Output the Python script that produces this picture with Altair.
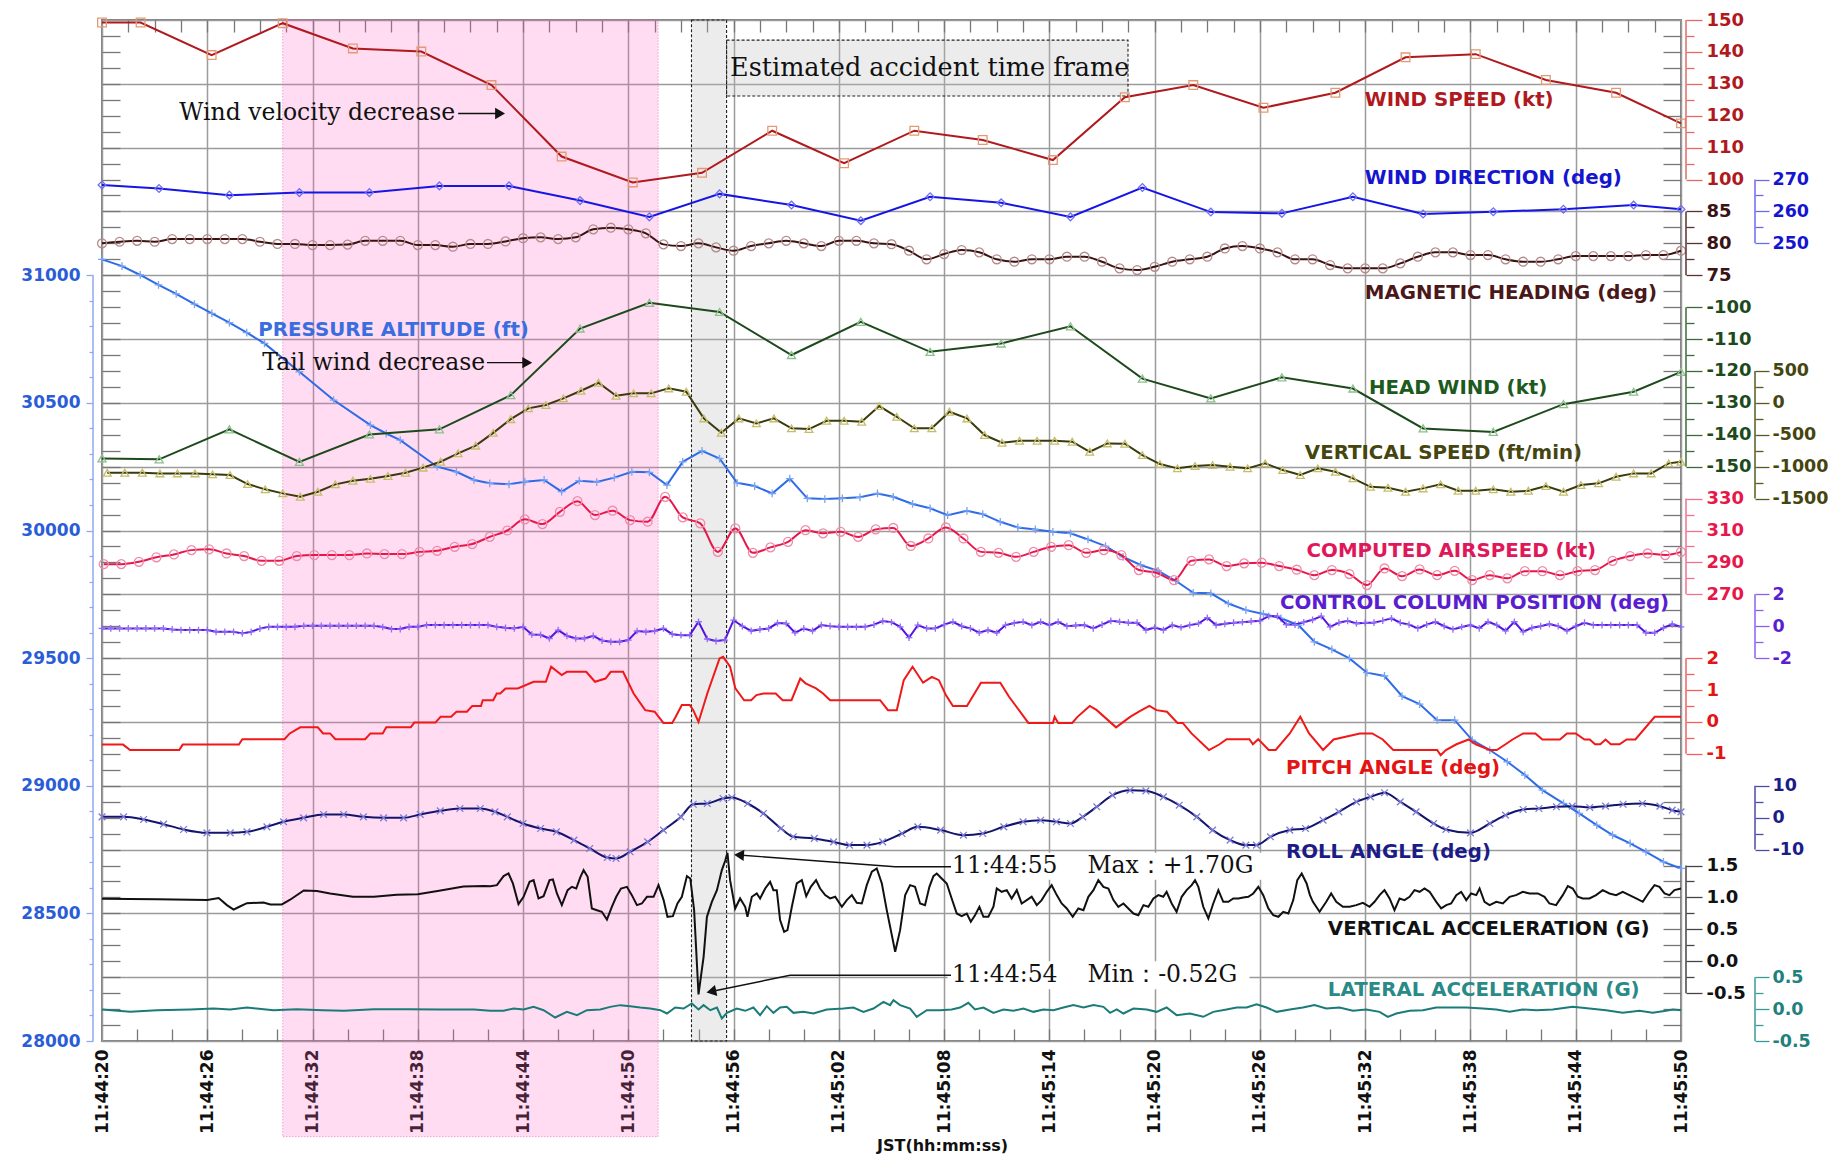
import altair as alt
import pandas as pd

# ---------------- layout (pixels, half-grid units) ----------------
W, H = 1579, 1021
N_HU = 32                      # plot height = 32 half-grid units
FONT = "DejaVu Sans"
SERIF = "DejaVu Serif"

# ---------------- time axis (seconds after 11:44:20) ----------------
T_START, T_END = 0, 90
TIME_TICKS = [0, 6, 12, 18, 24, 30, 36, 42, 48, 54, 60, 66, 72, 78, 84, 90]
TIME_LABELS = ["11:44:20", "11:44:26", "11:44:32", "11:44:38", "11:44:44", "11:44:50",
               "11:44:56", "11:45:02", "11:45:08", "11:45:14", "11:45:20", "11:45:26",
               "11:45:32", "11:45:38", "11:45:44", "11:45:50"]

# ---------------- data ----------------
WS_T = [0, 2.2, 6.25, 10.3, 14.3, 18.2, 22.2, 26.2, 30.25, 34.2, 38.2, 42.3, 46.3, 50.2,
        54.2, 58.3, 62.2, 66.2, 70.3, 74.3, 78.3, 82.3, 86.3, 90]
WS_V = [149.2, 149.2, 139.0, 149.0, 141.1, 140.1, 129.6, 107.2, 99.1, 102.1, 115.3, 105.1,
        115.3, 112.4, 106.1, 125.8, 129.6, 122.5, 127.2, 138.3, 139.3, 131.2, 127.2, 117.6]

WD_T = [0, 3.25, 7.26, 11.25, 15.24, 19.23, 23.2, 27.25, 31.2, 35.2, 39.3, 43.25, 47.2,
        51.25, 55.2, 59.3, 63.2, 67.25, 71.3, 75.3, 79.3, 83.3, 87.3, 90]
WD_V = [268.3, 267.2, 265.1, 265.9, 265.9, 268.0, 268.0, 263.4, 258.3, 265.5, 262.0, 257.1,
        264.6, 262.7, 258.3, 267.5, 259.8, 259.4, 264.6, 259.2, 259.9, 260.7, 262.0, 260.7]

MH_T = list(range(0, 91))
MH_V = [80.0, 80.25, 80.4, 80.25, 80.67, 80.67, 80.67, 80.67, 80.67, 80.25,
        79.9, 79.9, 79.73, 79.73, 79.8, 80.4, 80.4, 80.4, 79.73, 79.73,
        79.47, 79.9, 79.9, 80.3, 80.8, 80.94, 80.67, 80.94, 82.2, 82.45,
        82.2, 81.57, 79.84, 79.58, 80.0, 79.37, 78.84, 79.58, 80.0, 80.4,
        80.0, 79.58, 80.4, 80.4, 80.0, 79.86, 78.84, 77.5, 78.32, 78.95,
        78.59, 77.5, 77.12, 77.5, 77.5, 77.9, 77.9, 77.12, 76.08, 75.82,
        76.33, 77.12, 77.5, 77.9, 79.2, 79.58, 79.2, 78.59, 77.5, 77.5,
        76.6, 76.08, 76.08, 76.08, 76.86, 77.9, 78.59, 78.59, 78.17, 78.17,
        77.5, 77.12, 77.12, 77.5, 78.0, 78.0, 78.0, 78.0, 78.17, 78.17, 78.84]

HW_T = [0, 3.26, 7.26, 11.25, 15.24, 19.23, 23.3, 27.25, 31.2, 35.2, 39.3, 43.25, 47.2,
        51.25, 55.2, 59.3, 63.2, 67.25, 71.3, 75.3, 79.3, 83.3, 87.3, 90]
HW_V = [-147.4, -147.7, -138.3, -148.5, -139.9, -138.3, -127.6, -106.7, -98.65, -101.5,
        -115.0, -104.6, -114.0, -111.4, -106.0, -122.4, -128.6, -122.0, -125.5, -138.0,
        -139.1, -130.4, -126.5, -120.3]

VS_T = [round(0.3 + k, 1) for k in range(90)] + [90]
VS_V = [-1095, -1095, -1095, -1105, -1105, -1105, -1120, -1131, -1272, -1355,
        -1418, -1471, -1393, -1277, -1220, -1190, -1145, -1095, -1015, -923,
        -790, -670, -470, -255, -86, -34, 71, 190, 315, 111,
        149, 149, 227, 174, -243, -468, -243, -321, -243, -399,
        -410, -280, -280, -296, -50, -218, -399, -399, -139, -243,
        -504, -625, -594, -594, -594, -609, -766, -635, -640, -818,
        -959, -1026, -990, -975, -1001, -1026, -948, -1053, -1131, -1026,
        -1080, -1183, -1315, -1330, -1393, -1340, -1277, -1377, -1377, -1355,
        -1393, -1377, -1304, -1393, -1288, -1261, -1158, -1105, -1105, -948,
        -923]

CAS_T = [round(0.1 + k, 1) for k in range(90)] + [90]
CAS_V = [288.9, 288.9, 290.4, 293.2, 295.0, 297.7, 298.2, 295.6, 294.0, 291.0,
         291.0, 294.0, 294.6, 294.6, 294.6, 295.6, 295.2, 295.2, 296.6, 297.3,
         299.8, 301.5, 306.0, 310.0, 317.0, 314.0, 321.7, 328.4, 319.7, 322.4,
         316.5, 315.5, 331.1, 318.2, 314.5, 296.6, 311.3, 296.0, 299.4, 302.9,
         310.2, 308.2, 309.2, 306.0, 310.7, 311.6, 300.3, 305.0, 311.9, 305.0,
         296.6, 296.0, 293.5, 296.6, 299.8, 300.8, 296.0, 297.7, 294.6, 285.2,
         283.5, 278.9, 291.0, 291.9, 287.7, 289.4, 289.8, 287.7, 285.4, 282.0,
         285.2, 282.7, 275.8, 286.2, 281.4, 285.6, 282.0, 284.7, 278.9, 282.0,
         280.0, 284.5, 284.5, 282.0, 284.5, 285.2, 291.0, 294.0, 295.6, 294.6,
         296.6]

CC_T = [k * 0.5 for k in range(181)]
CC_V = [-0.14, -0.14, -0.14, -0.14, -0.14, -0.14, -0.14, -0.14, -0.2, -0.24,
        -0.24, -0.24, -0.24, -0.35, -0.35, -0.35, -0.45, -0.35, -0.15, -0.04,
        -0.04, -0.04, -0.04, 0.03, 0.03, 0.03, 0.03, 0.03, 0.03, 0.03,
        0.03, 0.03, -0.05, -0.18, -0.18, -0.04, -0.04, 0.07, 0.07, 0.07,
        0.07, 0.07, 0.07, 0.07, 0.07, -0.04, -0.1, -0.14, -0.04, -0.52,
        -0.54, -0.77, -0.24, -0.6, -0.77, -0.77, -0.6, -0.9, -0.98, -0.98,
        -0.87, -0.3, -0.35, -0.3, -0.14, -0.5, -0.56, -0.56, 0.28, -0.8,
        -0.93, -0.87, 0.38, 0.0, -0.29, -0.2, -0.14, 0.2, 0.17, -0.41,
        -0.14, -0.29, 0.07, 0.0, -0.04, -0.04, -0.04, -0.04, 0.1, 0.32,
        0.25, -0.04, -0.72, 0.07, -0.14, -0.14, 0.1, 0.28, 0.0, -0.14,
        -0.41, -0.24, -0.41, 0.07, 0.2, 0.28, 0.07, 0.28, 0.07, 0.28,
        0.0, 0.05, 0.07, -0.14, 0.1, 0.34, 0.28, 0.22, 0.22, -0.24,
        -0.08, -0.24, 0.07, -0.08, 0.07, 0.17, 0.53, 0.07, 0.15, 0.22,
        0.25, 0.3, 0.34, 0.63, 0.63, 0.1, 0.1, 0.25, 0.4, 0.63,
        -0.04, 0.22, 0.34, 0.17, 0.22, 0.22, 0.35, 0.49, 0.22, 0.1,
        -0.14, 0.1, 0.28, 0.0, -0.2, -0.05, 0.07, -0.14, 0.28, 0.07,
        -0.29, 0.28, -0.35, -0.1, 0.0, 0.13, 0.0, -0.29, 0.0, 0.22,
        0.07, 0.07, 0.07, 0.07, 0.07, 0.07, -0.41, -0.41, -0.1, 0.13,
        -0.04]

PITCH = [(0, -0.71), (1.2, -0.71), (1.6, -0.88), (4.4, -0.88), (4.6, -0.71), (7.8, -0.71),
         (8.0, -0.54), (10.4, -0.54), (10.7, -0.36), (11.3, -0.17), (12.3, -0.17), (12.6, -0.36),
         (13.0, -0.36), (13.3, -0.54), (15.0, -0.54), (15.3, -0.36), (16.0, -0.36), (16.2, -0.17),
         (17.6, -0.17), (17.8, -0.02), (19.0, -0.02), (19.3, 0.16), (19.9, 0.16), (20.2, 0.32),
         (20.8, 0.32), (21.1, 0.5), (21.6, 0.5), (21.7, 0.68), (22.3, 0.68), (22.5, 0.89),
         (22.7, 0.89), (23.0, 1.05), (23.7, 1.05), (24.6, 1.26), (25.3, 1.26), (25.6, 1.73),
         (26.2, 1.47), (26.5, 1.57), (27.6, 1.57), (28.1, 1.26), (28.7, 1.36), (29.0, 1.57),
         (29.7, 1.57), (30.3, 0.89), (30.96, 0.37), (31.5, 0.32), (32.0, -0.03), (32.5, -0.03),
         (32.7, 0.16), (33.05, 0.53), (33.5, 0.53), (33.7, 0.37), (34.0, 0.0), (34.5, 0.89),
         (35.2, 1.99), (35.4, 2.04), (35.8, 1.73), (36.1, 1.05), (36.6, 0.68), (37.0, 0.68),
         (37.3, 0.84), (37.7, 0.89), (38.4, 0.89), (38.8, 0.68), (39.3, 0.68), (39.8, 1.36),
         (40.1, 1.21), (40.7, 1.05), (41.1, 0.89), (41.5, 0.68), (44.35, 0.68), (44.8, 0.37),
         (45.3, 0.37), (45.7, 1.31), (46.2, 1.73), (46.8, 1.23), (47.3, 1.41), (47.7, 1.31),
         (48.1, 0.84), (48.5, 0.5), (49.3, 0.5), (50.1, 1.23), (51.2, 1.23), (51.7, 0.79),
         (52.8, -0.03), (54.2, -0.03), (54.3, 0.16), (54.5, -0.03), (55.3, -0.03), (55.6, 0.16),
         (56.3, 0.5), (56.7, 0.37), (57.8, -0.17), (58.6, 0.16), (59.1, 0.32), (59.7, 0.5),
         (60.1, 0.37), (60.7, 0.32), (61.3, -0.03), (61.6, -0.03), (62.1, -0.36), (63.1, -0.88),
         (63.7, -0.7), (64.1, -0.54), (65.4, -0.54), (65.6, -0.7), (65.9, -0.54), (66.5, -0.88),
         (66.9, -0.88), (67.7, -0.36), (68.3, 0.16), (68.8, -0.36), (69.6, -0.88), (70.2, -0.55),
         (71.7, -0.36), (72.4, -0.36), (73.0, -0.55), (73.6, -0.88), (76.1, -0.88), (76.3, -1.04),
         (76.6, -0.88), (77.2, -0.7), (77.9, -0.55), (78.3, -0.7), (79.1, -0.88), (79.5, -0.88),
         (80.0, -0.7), (80.4, -0.55), (81.0, -0.36), (81.7, -0.36), (82.1, -0.55), (83.1, -0.55),
         (83.5, -0.36), (84.0, -0.36), (84.5, -0.55), (84.8, -0.55), (85.1, -0.7), (85.4, -0.7),
         (85.7, -0.55), (86.0, -0.7), (86.5, -0.7), (86.9, -0.55), (87.4, -0.55), (88.5, 0.16),
         (90.0, 0.16)]

ROLL = [(0, 0.25), (1.23, 0.25), (2.37, -0.57), (3.51, -2.04), (4.65, -3.71), (5.98, -4.75),
        (7.31, -4.75), (8.26, -4.44), (9.4, -2.87), (10.35, -1.3), (11.49, -0.05), (12.63, 1.0),
        (13.77, 1.0), (14.9, 0.25), (16.05, -0.05), (17.19, -0.05), (18.14, 1.0), (19.28, 2.14),
        (20.4, 2.87), (21.56, 2.87), (22.4, 1.83), (23.1, 0.25), (24.0, -1.83), (25.0, -3.4),
        (25.9, -4.44), (26.9, -7.05), (27.8, -9.66), (28.8, -12.5), (29.3, -12.8), (30.1, -10.7),
        (31.1, -7.6), (32.0, -3.9), (33.0, 0.25), (33.7, 4.2), (34.5, 4.44), (35.4, 6.0),
        (35.9, 6.3), (36.8, 4.44), (37.7, 1.3), (38.7, -3.4), (39.4, -6.0), (40.6, -6.5),
        (41.7, -7.6), (42.6, -8.6), (43.6, -8.6), (44.5, -7.6), (45.6, -4.96), (46.5, -2.87),
        (47.8, -3.9), (49.1, -5.5), (50.2, -4.96), (51.4, -2.87), (52.5, -1.3), (53.5, -0.8),
        (54.4, -1.3), (55.2, -1.83), (55.9, 0.25), (56.7, 3.4), (57.6, 7.05), (58.6, 8.6),
        (59.5, 8.4), (60.5, 6.5), (61.4, 3.9), (62.4, 0.25), (63.3, -3.9), (64.3, -7.05),
        (65.2, -8.6), (65.8, -8.6), (66.6, -6.0), (67.7, -3.9), (68.6, -3.4), (69.6, -0.8),
        (70.5, 1.83), (71.5, 4.96), (72.3, 6.5), (73.1, 7.8), (74.0, 4.96), (74.9, 1.83),
        (75.9, -1.83), (76.6, -3.7), (78.0, -4.75), (79.1, -1.83), (80.0, 0.78), (81.0, 2.56),
        (81.9, 2.87), (82.9, 3.4), (83.8, 3.6), (84.8, 3.2), (85.7, 3.6), (86.7, 4.2),
        (87.8, 4.44), (88.8, 3.6), (89.5, 2.35), (90.0, 1.83)]

PRESS_ALT = [(0, 31062), (1.14, 31036), (2.18, 31001), (3.22, 30962), (4.23, 30927), (5.27, 30887),
             (6.26, 30851), (7.26, 30814), (8.25, 30775), (9.26, 30733), (11.25, 30622), (13.2, 30511),
             (15.3, 30413), (16.2, 30380), (17.0, 30354), (19.1, 30250), (20.2, 30230), (21.2, 30198),
             (22.1, 30185), (23.2, 30181), (24.1, 30191), (25.2, 30198), (26.2, 30152), (27.2, 30195),
             (28.2, 30190), (29.2, 30207), (30.2, 30230), (31.2, 30228), (32.2, 30178), (33.1, 30269),
             (34.2, 30312), (35.2, 30282), (36.2, 30187), (37.2, 30174), (38.2, 30145), (39.2, 30203),
             (40.2, 30126), (41.2, 30123), (42.2, 30126), (43.2, 30130), (44.2, 30145), (45.1, 30132),
             (46.2, 30104), (47.2, 30087), (48.2, 30060), (49.3, 30077), (50.2, 30064), (51.2, 30034),
             (52.2, 30012), (53.2, 30004), (54.2, 29995), (55.2, 29989), (56.2, 29965), (57.2, 29939),
             (58.2, 29897), (59.2, 29865), (60.2, 29842), (61.2, 29803), (62.2, 29756), (63.2, 29754),
             (64.2, 29714), (65.2, 29688), (66.2, 29673), (67.2, 29656), (68.2, 29629), (69.1, 29564),
             (70.1, 29534), (71.1, 29499), (72.1, 29443), (73.1, 29430), (74.1, 29351), (75.1, 29320),
             (76.1, 29257), (77.1, 29257), (78.1, 29179), (79.1, 29140), (80.1, 29094), (81.1, 29042),
             (82.1, 28983), (83.3, 28931), (84.2, 28892), (85.2, 28846), (86.1, 28807), (87.1, 28774),
             (88.0, 28741), (89.0, 28702), (90.0, 28676)]

VERT_ACC = [(0, 0.98), (3.13, 0.97), (6.0, 0.96), (6.65, 0.99), (7.12, 0.88), (7.5, 0.81), (7.8, 0.85),
            (8.26, 0.91), (9.2, 0.92), (9.6, 0.89), (10.25, 0.89), (10.7, 0.96), (11.5, 1.11),
            (12.25, 1.10), (13.0, 1.06), (14.3, 1.01), (15.5, 1.01), (16.8, 1.04), (18.0, 1.05),
            (19.3, 1.11), (20.6, 1.17), (21.8, 1.18),
            (22.13, 1.177), (22.51, 1.192), (22.89, 1.334), (23.17, 1.375), (23.42, 1.219), (23.74, 0.895),
            (24.03, 1.01), (24.37, 1.245), (24.6, 1.271), (24.88, 0.984), (25.17, 1.02), (25.51, 1.271),
            (25.7, 1.281), (25.93, 1.062), (26.21, 0.879), (26.54, 1.114), (26.78, 1.166), (27.03, 1.14),
            (27.26, 1.313), (27.45, 1.428), (27.68, 1.323), (27.92, 0.827), (28.21, 0.8), (28.49, 0.775),
            (28.78, 0.654), (29.06, 0.853), (29.31, 1.01), (29.58, 1.14), (29.92, 1.166), (30.2, 1.036),
            (30.49, 0.879), (30.77, 0.905), (31.06, 1.01), (31.44, 1.01), (31.72, 1.192), (32.01, 0.958),
            (32.23, 0.696), (32.54, 0.707), (32.8, 0.905), (33.05, 1.01), (33.34, 1.334), (33.53, 1.297),
            (33.75, 0.8), (34.0, -0.52), (34.29, 0.069), (34.48, 0.696), (34.76, 0.931), (35.05, 1.114),
            (35.33, 1.428), (35.52, 1.574), (35.65, 1.70), (35.8, 1.271), (36.09, 0.827), (36.37, 0.984),
            (36.66, 0.853), (36.79, 0.696), (37.04, 1.01), (37.32, 1.062), (37.51, 0.984), (37.8, 1.14),
            (38.08, 1.245), (38.27, 1.114), (38.46, 1.114), (38.65, 0.644), (38.88, 0.461), (39.07, 0.487),
            (39.32, 0.853), (39.6, 1.219), (39.89, 1.271), (40.14, 1.02), (40.4, 1.166), (40.7, 1.271),
            (40.93, 1.14), (41.22, 1.036), (41.5, 0.984), (41.79, 1.01), (42.17, 0.853), (42.45, 0.958),
            (42.74, 1.036), (43.02, 0.916), (43.31, 0.905), (43.59, 1.192), (43.88, 1.402), (44.16, 1.454),
            (44.45, 1.219), (44.73, 0.8), (45.21, 0.148), (45.49, 0.487), (45.78, 1.036), (46.06, 1.192),
            (46.34, 1.166), (46.63, 0.905), (46.91, 0.879), (47.16, 1.166), (47.39, 1.334), (47.58, 1.375),
            (47.86, 1.297), (48.15, 1.219), (48.43, 0.984), (48.72, 0.748), (49.0, 0.707), (49.29, 0.748),
            (49.52, 0.618), (49.76, 0.722), (50.01, 0.853), (50.24, 0.696), (50.52, 0.696), (50.81, 0.853),
            (51.0, 1.14), (51.28, 1.088), (51.57, 1.114), (51.85, 0.984), (52.14, 1.114), (52.42, 0.905),
            (52.71, 0.958), (52.99, 1.01), (53.28, 0.879), (53.56, 0.958), (53.85, 1.088), (54.13, 1.192),
            (54.42, 1.036), (54.7, 0.905), (54.99, 0.827), (55.33, 0.696), (55.65, 0.827), (55.94, 0.8),
            (56.22, 1.01), (56.51, 1.114), (56.79, 1.271), (57.08, 1.166), (57.36, 1.14), (57.65, 0.958),
            (57.93, 0.853), (58.22, 0.905), (58.5, 0.827), (58.79, 0.748), (59.07, 0.722), (59.36, 0.879),
            (59.64, 0.853), (59.93, 0.984), (60.21, 1.036), (60.49, 1.01), (60.68, 1.088), (60.97, 0.905),
            (61.25, 0.775), (61.54, 1.01), (61.82, 1.114), (62.11, 1.192), (62.3, 1.271), (62.49, 1.166),
            (62.77, 0.853), (63.06, 0.67), (63.34, 0.905), (63.63, 1.114), (63.91, 0.931), (64.2, 0.931),
            (64.48, 0.984), (64.77, 0.984), (65.05, 1.0), (65.34, 1.01), (65.62, 1.062), (65.91, 1.166),
            (66.19, 1.036), (66.48, 0.827), (66.76, 0.722), (67.05, 0.696), (67.33, 0.775), (67.62, 0.748),
            (67.9, 0.958), (68.13, 1.271), (68.38, 1.375), (68.66, 1.219), (68.85, 1.036), (69.02, 0.931),
            (69.4, 0.775), (69.78, 0.931), (70.06, 1.062), (70.35, 0.931), (70.73, 0.853), (71.11, 0.853),
            (71.49, 0.879), (71.87, 0.916), (72.25, 0.853), (72.53, 0.931), (72.82, 1.036), (73.1, 1.114),
            (73.39, 0.984), (73.67, 0.8), (73.96, 0.984), (74.24, 0.958), (74.53, 1.01), (74.81, 1.114),
            (75.1, 1.088), (75.38, 1.14), (75.67, 1.088), (76.05, 0.931), (76.33, 0.827), (76.62, 0.879),
            (76.9, 0.905), (77.19, 1.036), (77.47, 1.088), (77.76, 0.958), (78.04, 1.062), (78.33, 1.036),
            (78.52, 1.14), (78.8, 0.931), (79.09, 0.879), (79.47, 0.931), (79.85, 0.905), (80.23, 1.01),
            (80.6, 1.036), (80.98, 1.088), (81.37, 1.062), (81.84, 1.062), (82.22, 1.01), (82.5, 0.905),
            (82.88, 0.879), (83.26, 1.036), (83.55, 1.177), (83.83, 1.14), (84.12, 1.01), (84.4, 0.984),
            (84.78, 0.984), (85.16, 1.036), (85.54, 1.114), (85.92, 1.062), (86.3, 1.036), (86.68, 1.088),
            (87.06, 1.036), (87.44, 0.984), (87.82, 0.931), (88.2, 1.088), (88.49, 1.192), (88.77, 1.166),
            (89.06, 1.062), (89.34, 1.036), (89.63, 1.114), (90.0, 1.14)]

LAT_ACC = [(0, -0.006), (1.61, -0.043), (3.13, -0.017), (5.03, -0.006), (6.36, 0.009), (7.31, -0.006),
           (8.26, 0.025), (9.78, -0.017), (11.1, -0.001), (12.6, -0.017), (13.8, -0.027), (15.5, -0.001),
           (17.4, -0.001), (19.3, -0.006), (21.2, -0.006), (22.13, -0.027), (22.89, -0.027), (23.46, 0.009),
           (24.03, -0.006), (24.6, 0.035), (25.17, -0.017), (25.83, -0.132), (26.5, -0.043), (27.07, -0.095),
           (27.64, -0.017), (28.4, -0.006), (28.97, 0.035), (29.54, 0.062), (30.11, 0.046), (30.68, 0.025),
           (31.25, 0.009), (31.82, -0.017), (32.2, -0.069), (32.67, 0.025), (33.15, 0.009), (33.62, 0.088),
           (34.0, -0.006), (34.29, 0.062), (34.67, -0.017), (35.05, 0.025), (35.33, -0.147), (35.62, -0.059),
           (36.19, 0.009), (36.66, -0.027), (37.13, 0.025), (37.51, -0.095), (37.89, 0.046), (38.27, -0.059),
           (38.65, 0.025), (39.03, 0.035), (39.41, -0.059), (39.98, -0.043), (40.55, -0.069), (41.31, -0.006),
           (42.26, 0.009), (42.83, 0.025), (43.4, -0.043), (43.97, 0.009), (44.54, 0.114), (44.92, 0.062),
           (45.11, 0.14), (45.49, 0.062), (46.06, 0.009), (46.44, -0.121), (47.01, -0.017), (47.77, -0.017),
           (48.43, -0.006), (48.91, 0.025), (49.38, 0.098), (49.76, -0.006), (50.24, 0.025), (50.81, -0.059),
           (51.38, -0.006), (51.95, -0.027), (52.52, 0.009), (53.09, -0.043), (53.66, -0.006), (54.23, -0.017),
           (54.8, 0.025), (55.37, 0.062), (55.94, 0.025), (56.51, 0.062), (57.08, 0.035), (57.46, -0.059),
           (57.84, -0.006), (58.22, -0.069), (58.79, 0.009), (59.55, -0.006), (60.11, -0.043), (60.68, 0.025),
           (61.25, -0.095), (62.01, -0.069), (62.77, -0.121), (63.34, -0.043), (64.1, -0.006), (64.67, 0.025),
           (65.24, 0.025), (65.81, 0.077), (66.38, 0.025), (66.95, -0.043), (67.71, -0.006), (68.45, 0.025),
           (69.11, 0.062), (69.78, 0.009), (70.54, 0.025), (71.3, -0.027), (72.06, -0.006), (72.82, -0.043),
           (73.29, -0.121), (73.77, -0.069), (74.53, -0.027), (75.29, -0.017), (76.05, 0.025), (76.81, 0.025),
           (77.76, 0.025), (78.71, 0.009), (79.47, -0.006), (80.23, -0.043), (80.98, -0.006), (81.75, -0.017),
           (82.69, -0.006), (83.83, 0.035), (84.78, 0.009), (85.73, -0.017), (86.68, -0.059), (87.63, -0.027),
           (88.39, -0.059), (89.15, -0.027), (89.53, -0.006), (90.0, -0.017)]

# shaded periods (seconds)
WIND_DECREASE_SPAN = (10.3, 31.7)
ACCIDENT_SPAN = (33.6, 35.6)
ACCIDENT_BOX = (35.6, 58.48, 0.63, 2.38)

PLUS = "M-1,0L1,0M0,-1L0,1"
XMARK = "M-1,-1L1,1M-1,1L1,-1"


def pairs(p):
    return [a for a, _ in p], [b for _, b in p]


PT_T, PT_V = pairs(PITCH)
RL_T, RL_V = pairs(ROLL)
PA_T, PA_V = pairs(PRESS_ALT)
VA_T, VA_V = pairs(VERT_ACC)
LA_T, LA_V = pairs(LAT_ACC)

# ---------------- series definitions ----------------
SERIES = [
    dict(t=PA_T, v=PA_V, color="#2F6BE8", mcolor="#79A4F2", shape=PLUS, msize=60, ref=31000, ref_hu=8,
         per=125, major=[31000, 30500, 30000, 29500, 29000, 28500, 28000],
         minor=[v for v in range(28100, 31000, 100) if v % 500], col="left", dec=0,
         lcolor="#2A5CD8", axcolor="#8FAAF0"),
    dict(t=WS_T, v=WS_V, color="#B0191E", mcolor="#E39A74", shape="square", msize=75, ref=150, ref_hu=0,
         per=10, major=[150, 140, 130, 120, 110, 100], minor=[145, 135, 125, 115, 105], col="in", dec=0,
         lcolor="#B0191E", axcolor="#E06A6A"),
    dict(t=WD_T, v=WD_V, color="#1515E6", mcolor="#6F6FF5", shape="diamond", msize=60, ref=270, ref_hu=5,
         per=10, major=[270, 260, 250], minor=[265, 255], col="out", dec=0,
         lcolor="#1515D0", axcolor="#6A6AF0"),
    dict(t=MH_T, v=MH_V, color="#3A1212", mcolor="#B58A8A", shape="circle", msize=80, ref=85, ref_hu=6,
         per=5, major=[85, 80, 75], minor=[82.5, 77.5], col="in", dec=0, interp="monotone",
         lcolor="#3A1414", axcolor="#5A3030"),
    dict(t=HW_T, v=HW_V, color="#1D4A1D", mcolor="#8CC08C", shape="triangle-up", msize=65, ref=-100, ref_hu=9,
         per=10, major=[-100, -110, -120, -130, -140, -150], minor=[-105, -115, -125, -135, -145],
         col="in", dec=0, lcolor="#1D4A1D", axcolor="#3A6A3A"),
    dict(t=VS_T, v=VS_V, color="#3A3A0C", mcolor="#C5BD6A", shape="triangle-up", msize=60, ref=500, ref_hu=11,
         per=500, major=[500, 0, -500, -1000, -1500], minor=[250, -250, -750, -1250], col="out", dec=0,
         lcolor="#45450F", axcolor="#5A5A20"),
    dict(t=CAS_T, v=CAS_V, color="#E8174B", mcolor="#F08AAA", shape="circle", msize=80, ref=330, ref_hu=15,
         per=20, major=[330, 310, 290, 270], minor=[320, 300, 280], col="in", dec=0, interp="monotone",
         lcolor="#E8174B", axcolor="#F07090"),
    dict(t=CC_T, v=CC_V, color="#5512E0", mcolor="#9070F5", shape=PLUS, msize=45, ref=2, ref_hu=18,
         per=2, major=[2, 0, -2], minor=[1, -1], col="out", dec=0,
         lcolor="#5A1ED0", axcolor="#8A60F0"),
    dict(t=PT_T, v=PT_V, color="#F01818", mcolor=None, shape=None, msize=0, ref=2, ref_hu=20,
         per=1, major=[2, 1, 0, -1], minor=[1.5, 0.5, -0.5], col="in", dec=0,
         lcolor="#E41414", axcolor="#F06060"),
    dict(t=RL_T, v=RL_V, color="#14146E", mcolor="#7C7CD6", shape=XMARK, msize=45, ref=10, ref_hu=24,
         per=10, major=[10, 0, -10], minor=[5, -5], col="out", dec=0, interp="monotone",
         lcolor="#1C1C88", axcolor="#4A4AA8"),
    dict(t=VA_T, v=VA_V, color="#111111", mcolor=None, shape=None, msize=0, ref=1.5, ref_hu=26.5,
         per=0.5, major=[1.5, 1.0, 0.5, 0.0, -0.5], minor=[1.25, 0.75, 0.25, -0.25], col="in", dec=1,
         lcolor="#111111", axcolor="#444444"),
    dict(t=LA_T, v=LA_V, color="#1B7B78", mcolor=None, shape=None, msize=0, ref=0.5, ref_hu=30,
         per=0.5, major=[0.5, 0.0, -0.5], minor=[0.25, -0.25], col="out", dec=1,
         lcolor="#1F807D", axcolor="#3A9A97"),
]

LABELS = [
    ("PRESSURE ALTITUDE (ft)", 8.91, 9.72, "#3A6EE0"),
    ("WIND SPEED (kt)", 71.98, 2.51, "#B0191E"),
    ("WIND DIRECTION (deg)", 71.98, 4.95, "#1515D0"),
    ("MAGNETIC HEADING (deg)", 71.98, 8.56, "#4A1818"),
    ("HEAD WIND (kt)", 72.21, 11.54, "#1D5A1D"),
    ("VERTICAL SPEED (ft/min)", 68.56, 13.57, "#45450F"),
    ("COMPUTED AIRSPEED (kt)", 68.66, 16.65, "#E0185A"),
    ("CONTROL COLUMN POSITION (deg)", 67.14, 18.28, "#5A1ED0"),
    ("PITCH ANGLE (deg)", 67.48, 23.45, "#E41414"),
    ("ROLL ANGLE (deg)", 67.48, 26.08, "#1C1C88"),
    ("VERTICAL ACCELERATION (G)", 69.87, 28.5, "#111111"),
    ("LATERAL ACCELERATION (G)", 69.87, 30.41, "#2A8A88"),
]

SP = "\u00a0\u00a0\u00a0\u00a0"
NOTES_RIGHT = [("Wind velocity decrease", 20.13, 2.93, 23.5), ("Tail wind decrease", 21.84, 10.74, 23.5)]
NOTES_LEFT = [("Estimated accident time frame", 35.8, 1.5, 25.5),
              ("11:44:55" + SP + "Max：+1.70G", 48.45, 26.52, 23.5),
              ("11:44:54" + SP + "Min：-0.52G", 48.45, 29.94, 23.5)]
ARROW_LINES = [(0, 20.30, 2.93), (0, 22.69, 2.93),
               (1, 21.94, 10.74), (1, 24.24, 10.74),
               (2, 36.31, 26.17), (2, 45.2, 26.54), (2, 48.39, 26.54),
               (3, 34.73, 30.45), (3, 39.22, 29.94), (3, 48.39, 29.94)]
ARROW_HEADS = [(22.69, 2.93, "triangle-right", 0), (24.24, 10.74, "triangle-right", 0),
               (36.31, 26.17, "triangle-left", 4), (34.73, 30.45, "triangle-left", 348)]

# ---------------- helpers ----------------
XS = alt.Scale(domain=[T_START, T_END], nice=False, zero=False)
HU = alt.Scale(domain=[0, N_HU], reverse=True, nice=False, zero=False)
OFFSETS = {"in": 5, "out": 74, "left": 9}
TICKLEN = {"in": 16, "out": 14, "left": 7}


def js_list(vals):
    return "[" + ",".join(repr(float(v)) for v in vals) + "]"


def hu_of(s, v):
    return s["ref_hu"] + (s["ref"] - v) / s["per"]


def y_scale(s):
    top = s["ref"] + s["ref_hu"] * s["per"]
    bottom = s["ref"] - (N_HU - s["ref_hu"]) * s["per"]
    return alt.Scale(domain=[bottom, top], nice=False, zero=False)


def series_axis(s):
    major, minor = s["major"], s["minor"]
    vals = sorted(set(major) | set(minor), reverse=True)
    test = f"indexof({js_list(major)}, datum.value) >= 0"
    lab = f"(datum.value < 0 ? '-' : '') + format(abs(datum.value), '.{s['dec']}f')"
    col = s["col"]
    left = col == "left"
    return alt.Axis(
        orient="left" if left else "right", offset=OFFSETS[col], values=vals, title=None,
        domain=False, grid=False,
        tickSize=TICKLEN[col], tickColor=s["axcolor"], tickWidth=1.3,
        tickDash={"condition": {"test": test, "value": [40, 1]}, "value": [4 if left else 8, 40]},
        labelExpr=f"{test} ? {lab} : ''",
        labelColor=s["lcolor"], labelFont=FONT, labelFontWeight="bold",
        labelFontSize={"left": 17, "in": 18, "out": 17.5}[col],
        labelPadding={"left": 6, "in": 4, "out": 3}[col],
        labelOverlap=False, labelFlush=False, labelBaseline="middle",
    )


def series_layer(s):
    df = pd.DataFrame({"t": s["t"], "v": s["v"]})
    props = dict(color=s["color"], strokeWidth=2, interpolate=s.get("interp", "linear"))
    if s["shape"]:
        props["point"] = alt.OverlayMarkDef(shape=s["shape"], filled=False, color=s["mcolor"],
                                            size=s["msize"], strokeWidth=1.3)
    return alt.Chart(df).mark_line(**props).encode(
        x=alt.X("t:Q", scale=XS, axis=None),
        y=alt.Y("v:Q", scale=y_scale(s), axis=series_axis(s)),
    )


one = pd.DataFrame({"t": [0.0], "hu": [0.0]})
time_label_expr = "[" + ",".join(f"'{s}'" for s in TIME_LABELS) + "][round(datum.value / 6)]"

# grid + main time axis
h_grid = alt.Chart(one).mark_point(opacity=0).encode(
    x=alt.X("t:Q", scale=XS, axis=alt.Axis(
        orient="bottom", values=TIME_TICKS, labelExpr=time_label_expr, labelAngle=270,
        labelFont=FONT, labelFontWeight="bold", labelFontSize=17, labelColor="#111",
        labelPadding=8, labelFlush=False, labelOverlap=False, ticks=False, domain=False,
        grid=True, gridColor="#9b9b9b", gridWidth=1.5,
        title="JST(hh:mm:ss)", titleFont=FONT, titleFontSize=16, titleFontWeight="bold",
        titleColor="#111", titleX=840, titleY=104, titleBaseline="middle", titleAlign="center")),
    y=alt.Y("hu:Q", scale=HU, axis=alt.Axis(
        orient="left", values=list(range(0, N_HU + 1, 2)), grid=True, gridColor="#9b9b9b",
        gridWidth=1.5, ticks=False, labels=False, domain=False, title=None)),
)
h_left = alt.Chart(one).mark_point(opacity=0).encode(
    x=alt.X("t:Q", scale=XS, axis=alt.Axis(
        orient="top", offset=-12, values=[1.5 * k for k in range(1, 60)], tickSize=12,
        tickColor="#777", tickWidth=1.3, labels=False, domain=False, grid=False, title=None)),
    y=alt.Y("hu:Q", scale=HU, axis=alt.Axis(
        orient="left", offset=-18, values=[0.5 * k for k in range(1, 2 * N_HU)], tickSize=18,
        tickColor="#777", tickWidth=1.3, labels=False, domain=False, grid=False, title=None)),
)
h_right = alt.Chart(one).mark_point(opacity=0).encode(
    x=alt.X("t:Q", scale=XS, axis=alt.Axis(
        orient="bottom", offset=-12, values=list(range(2, 90, 2)), tickSize=12,
        tickColor="#777", tickWidth=1.3, labels=False, domain=False, grid=False, title=None)),
    y=alt.Y("hu:Q", scale=HU, axis=alt.Axis(
        orient="right", offset=-18, values=[0.5 * k for k in range(1, 2 * N_HU)], tickSize=18,
        tickColor="#777", tickWidth=1.3, labels=False, domain=False, grid=False, title=None)),
)

# shaded periods
pink = alt.Chart(pd.DataFrame({"t0": [WIND_DECREASE_SPAN[0]], "t1": [WIND_DECREASE_SPAN[1]],
                               "h0": [0], "h1": [35]})).mark_rect(
    fill="#ff5fc0", fillOpacity=0.22, stroke="#e050b0", strokeOpacity=0.7, strokeDash=[1, 2],
    strokeWidth=1).encode(
    x=alt.X("t0:Q", scale=XS, axis=None), x2="t1",
    y=alt.Y("h0:Q", scale=HU, axis=None), y2="h1")
band = alt.Chart(pd.DataFrame({"t0": [ACCIDENT_SPAN[0], ACCIDENT_BOX[0]],
                               "t1": [ACCIDENT_SPAN[1], ACCIDENT_BOX[1]],
                               "h0": [0, ACCIDENT_BOX[2]], "h1": [N_HU, ACCIDENT_BOX[3]]})).mark_rect(
    fill="#b8b8b8", fillOpacity=0.27, stroke="#222", strokeDash=[3, 2], strokeWidth=1.1).encode(
    x=alt.X("t0:Q", scale=XS, axis=None), x2="t1",
    y=alt.Y("h0:Q", scale=HU, axis=None), y2="h1")
white_boxes = alt.Chart(pd.DataFrame({"t0": [48.2, 48.2], "t1": [66.2, 65.4],
                                      "h0": [26.1, 29.5], "h1": [26.95, 30.38]})).mark_rect(
    fill="white").encode(
    x=alt.X("t0:Q", scale=XS, axis=None), x2="t1",
    y=alt.Y("h0:Q", scale=HU, axis=None), y2="h1")

series_layers = [series_layer(s) for s in SERIES]


# axis brackets
def bracket_layer(col, xpx):
    rows = [dict(a=hu_of(s, max(s["major"])), b=hu_of(s, min(s["major"])), c=s["axcolor"])
            for s in SERIES if s["col"] == col]
    return alt.Chart(pd.DataFrame(rows)).mark_rule(strokeWidth=1.5).encode(
        x=alt.value(xpx),
        y=alt.Y("a:Q", scale=HU, axis=None), y2="b",
        color=alt.Color("c:N", scale=None))


brackets = [bracket_layer("in", W + OFFSETS["in"]), bracket_layer("out", W + OFFSETS["out"]),
            bracket_layer("left", -OFFSETS["left"])]

labels = alt.Chart(pd.DataFrame(LABELS, columns=["text", "t", "hu", "c"])).mark_text(
    align="left", baseline="middle", font=FONT, fontSize=19.8, fontWeight="bold").encode(
    x=alt.X("t:Q", scale=XS, axis=None), y=alt.Y("hu:Q", scale=HU, axis=None),
    text="text:N", color=alt.Color("c:N", scale=None))

notes_r = alt.Chart(pd.DataFrame(NOTES_RIGHT, columns=["text", "t", "hu", "fs"])).mark_text(
    align="right", baseline="middle", font=SERIF, color="#111").encode(
    x=alt.X("t:Q", scale=XS, axis=None), y=alt.Y("hu:Q", scale=HU, axis=None), text="text:N",
    size=alt.Size("fs:Q", scale=None))
notes_l = alt.Chart(pd.DataFrame(NOTES_LEFT, columns=["text", "t", "hu", "fs"])).mark_text(
    align="left", baseline="middle", font=SERIF, color="#111").encode(
    x=alt.X("t:Q", scale=XS, axis=None), y=alt.Y("hu:Q", scale=HU, axis=None), text="text:N",
    size=alt.Size("fs:Q", scale=None))

arr_df = pd.DataFrame(ARROW_LINES, columns=["g", "t", "hu"])
arr_df["o"] = range(len(arr_df))
arrows = alt.Chart(arr_df).mark_line(color="#111", strokeWidth=1.4).encode(
    x=alt.X("t:Q", scale=XS, axis=None), y=alt.Y("hu:Q", scale=HU, axis=None),
    detail="g:N", order="o:Q")
heads = alt.Chart(pd.DataFrame(ARROW_HEADS, columns=["t", "hu", "s", "a"])).mark_point(
    filled=True, color="#111", size=130, opacity=1).encode(
    x=alt.X("t:Q", scale=XS, axis=None), y=alt.Y("hu:Q", scale=HU, axis=None),
    shape=alt.Shape("s:N", scale=None), angle=alt.Angle("a:Q", scale=None))

chart = alt.layer(
    h_grid, h_left, h_right, pink, band, white_boxes, *series_layers, *brackets,
    labels, arrows, heads, notes_r, notes_l,
).resolve_scale(y="independent").resolve_axis(x="independent", y="independent").properties(
    width=W, height=H,
    padding={"left": 94, "top": 12, "right": 152, "bottom": 115},
    autosize=alt.AutoSizeParams(type="none"),
).configure_view(stroke="#808080", strokeWidth=2)

chart.save("out.html", embed_options={"renderer": "svg", "actions": False})
